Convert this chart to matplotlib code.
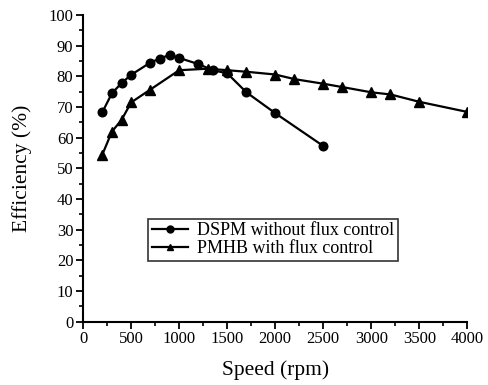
import matplotlib.pyplot as plt
from matplotlib.ticker import MultipleLocator

# 读图得到的数据
dspm_speed = [200, 300, 400, 500, 700, 800, 900, 1000, 1200, 1350, 1500, 1700, 2000, 2500]
dspm_eff = [68.3, 74.5, 77.8, 80.5, 84.5, 85.8, 87.0, 86.0, 84.0, 82.0, 81.0, 74.8, 68.0, 57.3]

pmhb_speed = [200, 300, 400, 500, 700, 1000, 1300, 1500, 1700, 2000, 2200, 2500, 2700, 3000, 3200, 3500, 4000]
pmhb_eff = [54.5, 62.0, 65.8, 71.5, 75.7, 82.0, 82.5, 82.0, 81.5, 80.6, 79.1, 77.6, 76.5, 74.8, 74.1, 71.7, 68.4]

x_ticks = [0, 500, 1000, 1500, 2000, 2500, 3000, 3500, 4000]
y_ticks = [0, 10, 20, 30, 40, 50, 60, 70, 80, 90, 100]

plt.rcParams['font.family'] = ['Liberation Serif', 'DejaVu Serif']

fig = plt.figure(figsize=(4.89, 3.85), dpi=100)
ax = fig.add_axes([0.170, 0.1644, 0.7856, 0.7966])

ax.plot(dspm_speed, dspm_eff, color='black', lw=1.6, marker='o', ms=6.2,
        label='DSPM without flux control')
ax.plot(pmhb_speed, pmhb_eff, color='black', lw=1.6, marker='^', ms=6.5,
        label='PMHB with flux control')

ax.set_xlim(0, 4000)
ax.set_ylim(0, 100)
ax.set_xticks(x_ticks)
ax.set_yticks(y_ticks)
ax.xaxis.set_minor_locator(MultipleLocator(250))
ax.yaxis.set_minor_locator(MultipleLocator(5))

for s in ['top', 'right']:
    ax.spines[s].set_visible(False)
for s in ['left', 'bottom']:
    ax.spines[s].set_linewidth(1.5)

ax.tick_params(axis='both', which='major', direction='out', length=5, width=1.3,
               labelsize=12, pad=2)
ax.tick_params(axis='both', which='minor', direction='out', length=3, width=1.2)

ax.set_xlabel('Speed (rpm)', fontsize=15.5, labelpad=9)
ax.set_ylabel('Efficiency (%)', fontsize=15.5, labelpad=12)

# 图例框位置按参考图量取
leg = ax.legend(loc='lower left', bbox_to_anchor=(0.169, 0.198, 0.651, 0.139),
                mode='expand', fontsize=13, frameon=True, fancybox=False,
                edgecolor='black', handlelength=2.0, handletextpad=0.5,
                borderpad=0.2, labelspacing=0.05, borderaxespad=0)
leg.get_frame().set_linewidth(1.2)
for h in leg.legend_handles:
    h.set_markersize(5)

fig.savefig('out.png', dpi=100)
